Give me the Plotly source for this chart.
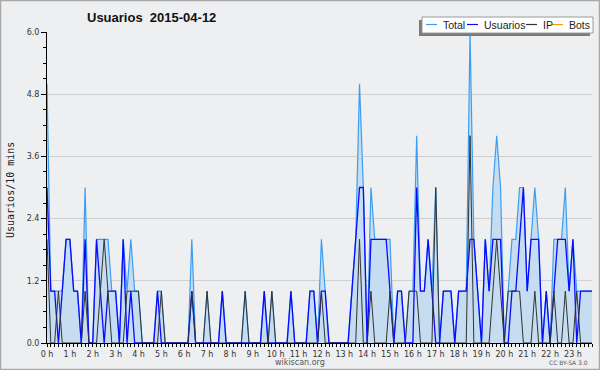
import plotly.graph_objects as go

# 10-minute slots, 0..143 (00:00 .. 23:50)
usuarios = [3,1,1,0,1,2,2,1,1,0, 2,0,0,2,1,0,1,1,1,0,
            2,0,1,0,0,0,0,0,0,1, 0,0,0,0,0,0,0,0,1,0,
            0,0,0,0,0,0,1,0,0,0, 0,0,0,0,0,0,0,1,0,0,
            0,0,0,0,1,0,0,0,0,1, 1,0,1,1,0,0,0,0,0,0,
            1,2,3,3,0,2,2,2,2,2, 1,0,1,1,0,0,0,3,1,1,
            2,1,0,0,1,1,1,0,1,1, 1,2,2,1,0,2,1,2,2,2,
            0,0,1,1,2,3,1,2,2,2, 0,1,0,1,2,2,2,1,2,0,
            1,1,1,1]
ip =       [2,0,0,1,0,0,0,0,0,0, 1,0,0,0,1,2,1,0,0,0,
            0,1,1,1,1,0,0,0,0,0, 1,0,0,0,0,0,0,0,1,0,
            0,0,1,0,0,0,0,0,0,0, 0,0,1,0,0,0,0,0,0,1,
            0,0,0,0,0,0,0,0,0,0, 0,0,1,0,0,0,0,0,0,0,
            0,0,2,0,0,1,0,0,0,0, 1,0,0,0,0,1,1,1,0,0,
            0,0,3,0,0,0,0,0,0,0, 0,4,0,0,0,0,0,1,2,1,
            0,1,1,1,1,0,0,0,1,0, 0,0,0,1,0,0,1,0,0,1,
            0,0,0,0]
bots = [0] * 144
total = [u + p + b for u, p, b in zip(usuarios, ip, bots)]
slots = list(range(144))
hour_ticks = list(range(0, 144, 6))
hour_labels = [f"{h} h" for h in range(24)]
y_ticks = [0, 1.2, 2.4, 3.6, 4.8, 6.0]

C_TOTAL = "#3c9ef2"
C_FILL = "#c6dcf0"
C_USR = "#0a0aff"
C_IP = "#333333"
C_BOTS = "#ff9900"
BG = "#eeeff1"

fig = go.Figure()
fig.add_trace(go.Scatter(x=slots, y=total, mode="lines", name="Total",
                         line=dict(color=C_TOTAL, width=1.2), fill="tozeroy",
                         fillcolor=C_FILL, showlegend=False))
fig.add_trace(go.Scatter(x=slots, y=usuarios, mode="lines", name="Usuarios",
                         line=dict(color=C_USR, width=1.3), showlegend=False))
fig.add_trace(go.Scatter(x=slots, y=ip, mode="lines", name="IP",
                         line=dict(color=C_IP, width=1), showlegend=False))

L, R, T, B = 47, 8, 32, 27
W, H = 600, 370
pw, ph = W - L - R, H - T - B

def px(x):
    return (x - L) / pw

def py(y):
    return (H - B - y) / ph

shapes = []
# outer border of the image
shapes.append(dict(type="rect", xref="paper", yref="paper",
                   x0=px(0.5), x1=px(599.5), y0=py(369.5), y1=py(0.5),
                   line=dict(color="#a8a8a8", width=1.5), layer="below"))
# legend shadow and box
shapes.append(dict(type="rect", xref="paper", yref="paper",
                   x0=px(419), x1=px(590), y0=py(36), y1=py(20),
                   fillcolor="#7a7a7a", line=dict(width=0), layer="above"))
shapes.append(dict(type="rect", xref="paper", yref="paper",
                   x0=px(422), x1=px(593), y0=py(33), y1=py(17),
                   fillcolor="white", line=dict(color="#9a9a9a", width=1), layer="above"))

annotations = []
legend_items = [("Total", C_TOTAL, 426, 437, 441),
                ("Usuarios", C_USR, 467, 478, 482),
                ("IP", C_IP, 526, 537, 541),
                ("Bots", C_BOTS, 552, 563, 567)]
for name, col, lx0, lx1, tx in legend_items:
    shapes.append(dict(type="line", xref="paper", yref="paper",
                       x0=px(lx0), x1=px(lx1), y0=py(24.5), y1=py(24.5),
                       line=dict(color=col, width=1.2), layer="above"))
    annotations.append(dict(text=name, xref="paper", yref="paper",
                            x=px(tx), y=py(25), xanchor="left", yanchor="middle",
                            showarrow=False,
                            font=dict(family="Liberation Sans", size=10.5, color="#222")))

annotations.append(dict(text="<b>Usuarios  2015-04-12</b>", xref="paper", yref="paper",
                        x=px(151), y=py(17), xanchor="center", yanchor="middle",
                        showarrow=False,
                        font=dict(family="Liberation Sans", size=13, color="#111")))
annotations.append(dict(text="Usuarios/10 mins", xref="paper", yref="paper",
                        x=px(10), y=py(190), xanchor="center", yanchor="middle",
                        textangle=-90, showarrow=False,
                        font=dict(family="DejaVu Sans Mono", size=10, color="#222")))
annotations.append(dict(text="wikiscan.org", xref="paper", yref="paper",
                        x=px(300), y=py(362.5), xanchor="center", yanchor="middle",
                        showarrow=False,
                        font=dict(family="DejaVu Sans", size=8, color="#555")))
annotations.append(dict(text="CC BY-SA 3.0", xref="paper", yref="paper",
                        x=px(590), y=py(362.5), xanchor="right", yanchor="middle",
                        showarrow=False,
                        font=dict(family="DejaVu Sans", size=6, color="#555")))

fig.update_layout(
    width=W, height=H,
    margin=dict(l=L, r=R, t=T, b=B, pad=0),
    paper_bgcolor=BG, plot_bgcolor=BG,
    shapes=shapes, annotations=annotations,
    showlegend=False,
    xaxis=dict(range=[0, 143], tickvals=hour_ticks, ticktext=hour_labels,
               showgrid=False, zeroline=False, showline=True, linecolor="black",
               linewidth=1, ticks="outside", ticklen=3, tickcolor="black",
               minor=dict(dtick=1, tick0=0, ticks="outside", ticklen=3, tickcolor="black"),
               tickfont=dict(family="DejaVu Sans", size=8, color="#333")),
    yaxis=dict(range=[0, 6], tickvals=y_ticks, tickformat=".1f",
               showgrid=True, gridcolor="#cfcfcf", gridwidth=1, zeroline=False,
               showline=True, linecolor="black", linewidth=1,
               ticks="outside", ticklen=5, tickcolor="black",
               minor=dict(dtick=0.3, tick0=0, ticks="outside", ticklen=3,
                          tickcolor="black", showgrid=False),
               tickfont=dict(family="DejaVu Sans", size=8, color="#333")),
)

fig.write_html("out.html", config={"displayModeBar": False},
               post_script="document.body.style.margin='0';")
